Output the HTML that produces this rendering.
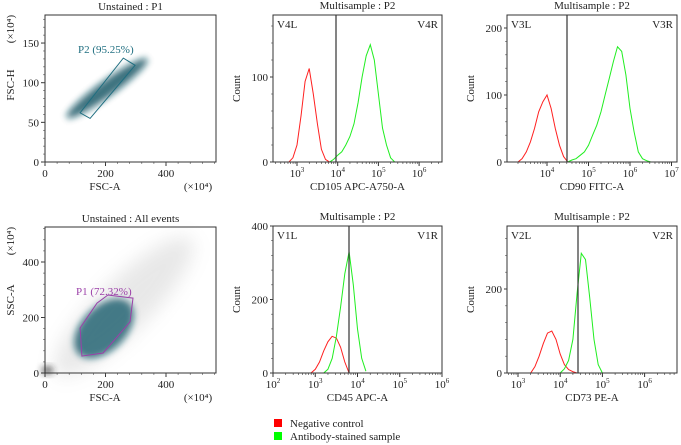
<!DOCTYPE html>
<html><head><meta charset="utf-8"><style>
body{margin:0;background:#fff}
svg{display:block;font-family:"Liberation Serif",serif}
text{fill:#222}
</style></head><body>
<svg id="c" width="681" height="445" viewBox="0 0 681 445">
<defs>
<filter id="bl" x="-50%" y="-50%" width="200%" height="200%"><feGaussianBlur stdDeviation="3.5"/></filter>
<filter id="bl2" x="-50%" y="-50%" width="200%" height="200%"><feGaussianBlur stdDeviation="9"/></filter>
</defs>
<g id="root"></g>
<g>
<rect x="274" y="419" width="8" height="8" fill="#ff0000"/>
<text x="290" y="427" font-size="11">Negative control</text>
<rect x="274" y="432" width="8" height="8" fill="#00ff00"/>
<text x="290" y="440" font-size="11">Antibody-stained sample</text>
</g>
</svg>
<script>
// ---- data ----
const cd105RedStart = 2.8, cd105Red = [0,5,20,55,95,110,80,45,15,3,0];
const cd105GreenStart = 3.8, cd105Green = [0,3,8,12,20,30,45,70,100,125,138,120,80,40,20,5,0];
const cd90RedStart = 3.3, cd90Red = [0,5,15,30,50,75,90,100,80,50,25,8,0];
const cd90GreenStart = 4.5, cd90Green = [0,3,5,10,15,25,40,55,75,100,125,150,172,165,130,80,45,15,5,2,0];
const cd45RedStart = 2.9, cd45Red = [0,10,30,60,85,100,95,70,30,0];
const cd45GreenStart = 3.2, cd45Green = [0,10,40,100,180,270,330,240,120,40,5];
const cd73RedStart = 3.3, cd73Red = [0,15,40,70,95,100,80,45,20,8,3,0];
const cd73GreenStart = 4.0, cd73Green = [0,10,30,80,190,285,270,180,80,20,0];
const gateP2X = [116,149,298,259], gateP2Y = [62,55,122,131];
const gateP1X = [116,172,208,291,281,192,122], gateP1Y = [162,252,281,270,184,72,61];
const linTicks = [0,200,400];
// ---- drawing ----
const NS='http://www.w3.org/2000/svg';
const root=document.getElementById('root');
function mk(tag,attrs,parent,txt){const e=document.createElementNS(NS,tag);for(const k in attrs)e.setAttribute(k,attrs[k]);if(txt!=null)e.textContent=txt;(parent||root).appendChild(e);return e;}
function frame(g,L,T,R,B){
  const r=mk('rect',{x:L,y:T,width:R-L,height:B-T,fill:'none',stroke:'#333','stroke-width':1},g);
  
  
}
function title(g,x,y,s,name){const t=mk('text',{x:x,y:y,'font-size':11,'text-anchor':'middle'},g,s);
  
  return t;}
function ylabel(g,x,y,s){const t=mk('text',{x:x,y:y,'font-size':11,'text-anchor':'middle',transform:`rotate(-90 ${x} ${y})`},g,s);
  
  }
function supLabel(g,x,y,exp,name){const t=mk('text',{x:x,y:y,'font-size':11,'text-anchor':'middle'},g);
  
  
  mk('tspan',{},t,'10');mk('tspan',{dy:-5,'font-size':7},t,String(exp));}

function histPanel(o){
  const g=mk('g',{});
  
  
  const xs=v=>o.x0+(v-o.l0)*o.dec, ys=v=>o.B-v*o.yk;
  title(g,(o.L+o.R)/2,o.T-6,'Multisample : P2','panel-title');
  o.yt.forEach(v=>{mk('line',{x1:o.L-3,x2:o.L,y1:ys(v),y2:ys(v),stroke:'#333'},g);
    const t=mk('text',{x:o.L-5,y:ys(v)+4,'font-size':11,'text-anchor':'end'},g,String(v));
    
    });
  for(let v=0;ys(v)>=o.T;v+=o.ym){mk('line',{x1:o.L-2,x2:o.L,y1:ys(v),y2:ys(v),stroke:'#555','stroke-width':.6},g);}
  for(let d=Math.floor(o.lmin);d<=o.lmax;d++){
    for(let m=1;m<10;m++){const lv=d+Math.log10(m);if(lv<o.lmin||lv>o.lmax)continue;const x=xs(lv);
      mk('line',{x1:x,x2:x,y1:o.B,y2:o.B+(m==1?4:2),stroke:'#333','stroke-width':m==1?1:.6},g);}
    if(o.xl.includes(d))supLabel(g,xs(d),o.B+15,d,'x-tick-label');
  }
  title(g,(o.L+o.R)/2,o.B+28,o.xt,'x-axis-title');
  ylabel(g,o.L-33,(o.T+o.B)/2,'Count');
  const cl=mk('clipPath',{id:'cp'+o.name},g);mk('rect',{x:o.L,y:o.T,width:o.R-o.L,height:o.B-o.T},cl);
  const draw=(start,arr,col,nm)=>{const pts=arr.map((v,i)=>xs(start+i*0.1).toFixed(1)+','+ys(v).toFixed(1)).join(' ');
    const p=mk('polyline',{points:pts,fill:'none',stroke:col,'stroke-width':1,'clip-path':`url(#cp${o.name})`},g);
    
    };
  draw(o.rs,o.red,'#ff2020','negative-control-histogram');
  draw(o.gs,o.green,'#20ee20','stained-sample-histogram');
  const gl=mk('line',{x1:o.gate,x2:o.gate,y1:o.T,y2:o.B,stroke:'#333','stroke-width':1.2},g);
  
  
  const a=mk('text',{x:o.L+4,y:o.T+13,'font-size':11},g,o.lab+'L');
  
  
  const b=mk('text',{x:o.R-4,y:o.T+13,'font-size':11,'text-anchor':'end'},g,o.lab+'R');
  
  
  frame(g,o.L,o.T,o.R,o.B);
}
histPanel({name:'cd105-panel',L:273,R:442,T:15,B:162,x0:297,l0:3,dec:40.7,lmin:2.4,lmax:6.5,xl:[3,4,5,6],yk:0.85,yt:[0,100],ym:20,rs:cd105RedStart,red:cd105Red,gs:cd105GreenStart,green:cd105Green,gate:336,lab:'V4',xt:'CD105 APC-A750-A'});
histPanel({name:'cd90-panel',L:507,R:677,T:15,B:162,x0:547,l0:4,dec:41.5,lmin:3.04,lmax:7.0,xl:[4,5,6,7],yk:0.67,yt:[0,100,200],ym:20,rs:cd90RedStart,red:cd90Red,gs:cd90GreenStart,green:cd90Green,gate:567,lab:'V3',xt:'CD90 FITC-A'});
histPanel({name:'cd45-panel',L:273,R:442,T:226,B:373,x0:273,l0:2,dec:42.25,lmin:2,lmax:6,xl:[2,3,4,5,6],yk:0.3675,yt:[0,200,400],ym:40,rs:cd45RedStart,red:cd45Red,gs:cd45GreenStart,green:cd45Green,gate:349,lab:'V1',xt:'CD45 APC-A'});
histPanel({name:'cd73-panel',L:507,R:677,T:226,B:373,x0:518,l0:3,dec:42.2,lmin:2.74,lmax:6.76,xl:[3,4,5,6],yk:0.42,yt:[0,200],ym:40,rs:cd73RedStart,red:cd73Red,gs:cd73GreenStart,green:cd73Green,gate:578,lab:'V2',xt:'CD73 PE-A'});

function scatterPanel(o){
  const g=mk('g',{});
  
  
  const xs=v=>o.L+v*0.3025, ys=v=>o.B-v*o.yk;
  title(g,(o.L+o.R)/2,o.T-5,o.title,'panel-title');
  linTicks.forEach(v=>{mk('line',{x1:xs(v),x2:xs(v),y1:o.B,y2:o.B+4,stroke:'#333'},g);
    const t=mk('text',{x:xs(v),y:o.B+15,'font-size':11,'text-anchor':'middle'},g,String(v));
    
    });
  for(let v=0;xs(v)<=o.R;v+=40)mk('line',{x1:xs(v),x2:xs(v),y1:o.B,y2:o.B+2,stroke:'#555','stroke-width':.6},g);
  o.yt.forEach(v=>{mk('line',{x1:o.L-4,x2:o.L,y1:ys(v),y2:ys(v),stroke:'#333'},g);
    const t=mk('text',{x:o.L-6,y:ys(v)+4,'font-size':11,'text-anchor':'end'},g,String(v));
    
    });
  for(let v=0;ys(v)>=o.T;v+=o.ym)mk('line',{x1:o.L-2,x2:o.L,y1:ys(v),y2:ys(v),stroke:'#555','stroke-width':.6},g);
  title(g,105,o.B+28,'FSC-A','x-axis-title');
  title(g,198,o.B+28,'(×10⁴)','x-axis-unit');
  ylabel(g,14,o.yc,o.ylab);
  ylabel(g,14,o.T+14,'(×10⁴)');
  o.cloud(g,xs,ys);
  const pts=o.gx.map((v,i)=>xs(v).toFixed(1)+','+ys(o.gy[i]).toFixed(1)).join(' ');
  const pg=mk('polygon',{points:pts,fill:'none',stroke:o.gc,'stroke-width':1},g);
  
  
  const gt=mk('text',{x:o.gl[0],y:o.gl[1],'font-size':11,style:'fill:'+o.gc},g,o.gtext);
  
  
  frame(g,o.L,o.T,o.R,o.B);
}
scatterPanel({name:'fsc-h-scatter',title:'Unstained : P1',L:45,R:216,T:15,B:162,yk:0.793,yt:[0,50,100,150],ym:10,yc:85,ylab:'FSC-H',
  gx:gateP2X,gy:gateP2Y,gc:'#1f6e80',gtext:'P2 (95.25%)',gl:[78,53],
  cloud:(g,xs,ys)=>{const e=mk('ellipse',{cx:xs(205),cy:ys(93),rx:50,ry:8,fill:'#0f4f5f',opacity:.8,filter:'url(#bl)',transform:`rotate(-36 ${xs(205)} ${ys(93)})`},g);
    
    }});
scatterPanel({name:'ssc-scatter',title:'Unstained : All events',L:45,R:216,T:227,B:373,yk:0.2775,yt:[0,200,400],ym:40,yc:300,ylab:'SSC-A',
  gx:gateP1X,gy:gateP1Y,gc:'#9b3fa8',gtext:'P1 (72.32%)',gl:[76,295],
  cloud:(g,xs,ys)=>{const b=mk('ellipse',{cx:xs(260),cy:ys(240),rx:95,ry:26,fill:'#999',opacity:.22,filter:'url(#bl2)',transform:`rotate(-45 ${xs(260)} ${ys(240)})`},g);
    
    
    const o2=mk('ellipse',{cx:xs(8),cy:ys(10),rx:6,ry:4,fill:'#222',opacity:.7,filter:'url(#bl)'},g);
    
    
    const e=mk('ellipse',{cx:xs(195),cy:ys(160),rx:36,ry:22,fill:'#0f5566',opacity:.75,filter:'url(#bl)',transform:`rotate(-45 ${xs(195)} ${ys(160)})`},g);
    
    }});
</script>
</body></html>
